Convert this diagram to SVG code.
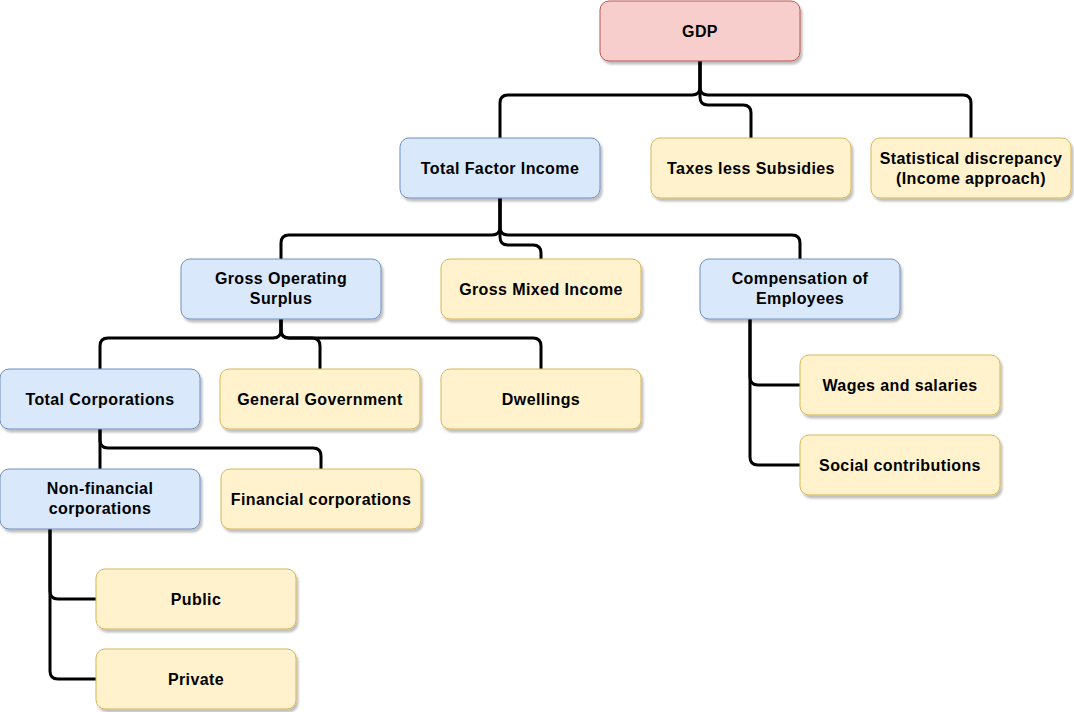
<svg xmlns="http://www.w3.org/2000/svg" width="1074" height="712" viewBox="0 0 1074 712">
<defs>
<filter id="sh" x="-10%" y="-10%" width="130%" height="140%">
<feDropShadow dx="2" dy="3" stdDeviation="1" flood-color="#000" flood-opacity="0.25"/>
</filter>
<style>
.n rect{stroke-width:1;filter:url(#sh)}
.red rect{fill:#f8cecc;stroke:#b85450}
.blue rect{fill:#dae8fc;stroke:#6c8ebf}
.yel rect{fill:#fff2cc;stroke:#d6b656}
.n text{font-family:"Liberation Sans",Arial,sans-serif;font-weight:bold;font-size:16px;letter-spacing:0.4px;fill:#000;text-anchor:middle}
.e path{fill:none;stroke:#000;stroke-width:3;stroke-linejoin:round}
</style>
</defs>
<rect width="1074" height="712" fill="#fff"/>
<g class="e" id="connectors">
<path d="M700 61 V87 Q700 95 692 95 H508 Q500 95 500 103 V138"/>
<path d="M700 61 V97 Q700 105 708 105 H743 Q751 105 751 113 V138"/>
<path d="M700 61 V87 Q700 95 708 95 H963 Q971 95 971 103 V138"/>
<path d="M500 198 V227 Q500 235 492 235 H289 Q281 235 281 243 V259"/>
<path d="M500 198 V237 Q500 245 508 245 H533 Q541 245 541 253 V259"/>
<path d="M500 198 V227 Q500 235 508 235 H792 Q800 235 800 243 V259"/>
<path d="M281 319 V330 Q281 338 273 338 H108 Q100 338 100 346 V369"/>
<path d="M281 319 V330 Q281 338 289 338 H312 Q320 338 320 346 V369"/>
<path d="M281 319 V330 Q281 338 289 338 H533 Q541 338 541 346 V369"/>
<path d="M100 429 V469"/>
<path d="M100 429 V440 Q100 448 108 448 H313 Q321 448 321 456 V469"/>
<path d="M50 529 V591 Q50 599 58 599 H96"/>
<path d="M50 529 V671 Q50 679 58 679 H96"/>
<path d="M750 319 V377 Q750 385 758 385 H800"/>
<path d="M750 319 V457 Q750 465 758 465 H800"/>
</g>
<g id="gdp" class="n red"><rect x="600" y="1" width="200" height="60" rx="9"/><text x="700" y="37">GDP</text></g>
<g id="tfi" class="n blue"><rect x="400" y="138" width="200" height="60" rx="9"/><text x="500" y="174">Total Factor Income</text></g>
<g id="taxes" class="n yel"><rect x="651" y="138" width="200" height="60" rx="9"/><text x="751" y="174">Taxes less Subsidies</text></g>
<g id="stat" class="n yel"><rect x="871" y="138" width="200" height="60" rx="9"/><text x="971" y="164">Statistical discrepancy</text><text x="971" y="184">(Income approach)</text></g>
<g id="gos" class="n blue"><rect x="181" y="259" width="200" height="60" rx="9"/><text x="281" y="284">Gross Operating</text><text x="281" y="304">Surplus</text></g>
<g id="gmi" class="n yel"><rect x="441" y="259" width="200" height="60" rx="9"/><text x="541" y="295">Gross Mixed Income</text></g>
<g id="coe" class="n blue"><rect x="700" y="259" width="200" height="60" rx="9"/><text x="800" y="284">Compensation of</text><text x="800" y="304">Employees</text></g>
<g id="tc" class="n blue"><rect x="0" y="369" width="200" height="60" rx="9"/><text x="100" y="405">Total Corporations</text></g>
<g id="gg" class="n yel"><rect x="220" y="369" width="200" height="60" rx="9"/><text x="320" y="405">General Government</text></g>
<g id="dw" class="n yel"><rect x="441" y="369" width="200" height="60" rx="9"/><text x="541" y="405">Dwellings</text></g>
<g id="nfc" class="n blue"><rect x="0" y="469" width="200" height="60" rx="9"/><text x="100" y="494">Non-financial</text><text x="100" y="514">corporations</text></g>
<g id="fc" class="n yel"><rect x="221" y="469" width="200" height="60" rx="9"/><text x="321" y="505">Financial corporations</text></g>
<g id="pub" class="n yel"><rect x="96" y="569" width="200" height="60" rx="9"/><text x="196" y="605">Public</text></g>
<g id="priv" class="n yel"><rect x="96" y="649" width="200" height="60" rx="9"/><text x="196" y="685">Private</text></g>
<g id="wages" class="n yel"><rect x="800" y="355" width="200" height="60" rx="9"/><text x="900" y="391">Wages and salaries</text></g>
<g id="social" class="n yel"><rect x="800" y="435" width="200" height="60" rx="9"/><text x="900" y="471">Social contributions</text></g>
</svg>
